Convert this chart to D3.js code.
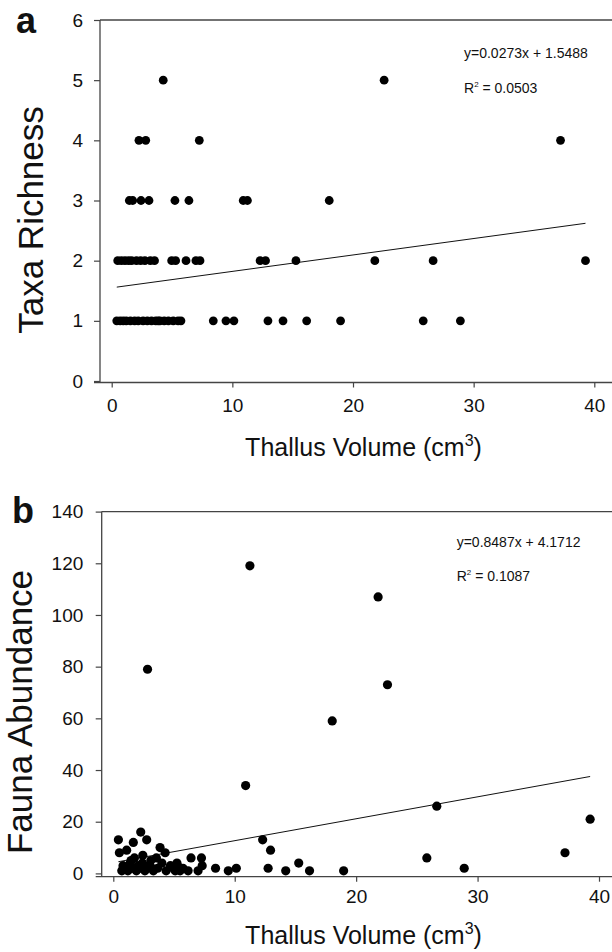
<!DOCTYPE html>
<html>
<head>
<meta charset="utf-8">
<script src="https://cdn.jsdelivr.net/npm/d3@7"></script>
<style>
body { margin: 0; background: #fff; }
svg text { font-family: "Liberation Sans", Arial, Helvetica, sans-serif; fill: #111; }
</style>
</head>
<body>
<svg id="chart" width="612" height="952"></svg>
<script>
// thallus volume (cm3) of every sample, same samples in both panels
const volume = [
  0.42, 0.50, 0.70, 0.80, 0.95, 1.10, 1.20, 1.40, 1.46, 1.55,
  1.65, 1.74, 1.90, 2.05, 2.20, 2.26, 2.40, 2.43, 2.60, 2.75,
  2.82, 2.95, 3.09, 3.20, 3.30, 3.55, 3.65, 3.85, 4.00, 4.27,
  4.35, 4.70, 4.97, 5.10, 5.24, 5.30, 5.50, 5.74, 6.16, 6.40,
  6.98, 7.26, 7.32, 8.42, 9.47, 10.13, 10.9, 11.25, 12.3, 12.75,
  12.95, 14.2, 15.27, 16.16, 18.03, 18.97, 21.81, 22.58, 25.82, 26.64,
  28.9, 37.2, 39.27
];
const richness = [
  1, 2, 1, 2, 1, 2, 1, 2, 3, 1,
  2, 3, 1, 2, 1, 4, 2, 3, 1, 2,
  4, 1, 3, 2, 1, 2, 1, 1, 1, 5,
  1, 1, 2, 1, 3, 2, 1, 1, 2, 3,
  2, 4, 2, 1, 1, 1, 3, 3, 2, 2,
  1, 1, 2, 1, 3, 1, 2, 5, 1, 2,
  1, 4, 2
];
const abundance = [
  13, 8, 1, 3, 2, 9, 1, 4, 5, 2,
  12, 6, 1, 3, 2, 16, 4, 7, 1, 13,
  79, 3, 5, 2, 1, 6, 2, 10, 4, 8,
  1, 3, 2, 1, 4, 3, 1, 2, 1, 6,
  1, 6, 3, 2, 1, 2, 34, 119, 13, 2,
  9, 1, 4, 1, 59, 1, 107, 73, 6, 26,
  2, 8, 21
];
const xTicks = [0, 10, 20, 30, 40];
const richnessTicks = [0, 1, 2, 3, 4, 5, 6];
const abundanceTicks = [0, 20, 40, 60, 80, 100, 120, 140];
const fitRichness = [0.0273, 1.5488];
const fitAbundance = [0.8487, 4.1712];
const eqRichness = ["y=0.0273x + 1.5488", "0.0503"];
const eqAbundance = ["y=0.8487x + 4.1712", "0.1087"];

const svg = d3.select("#chart");
const W = 612;

function drawPanel(o) {
  const x = d3.scaleLinear().domain([0, 40]).range([o.x0, o.x40]);
  const y = d3.scaleLinear().domain([0, o.ymax]).range([o.y0, o.ytop]);
  const g = svg.append("g");

  // frame lines (right side is cut off in the figure)
  g.append("line").attr("x1", o.axisX).attr("x2", W).attr("y1", o.ytop).attr("y2", o.ytop)
    .attr("stroke", "#444").attr("stroke-width", 1.3);
  g.append("line").attr("x1", o.axisX).attr("x2", o.axisX).attr("y1", o.ytop).attr("y2", o.axisY)
    .attr("stroke", "#444").attr("stroke-width", 1.3);
  g.append("line").attr("x1", o.axisX - 6).attr("x2", W).attr("y1", o.axisY).attr("y2", o.axisY)
    .attr("stroke", "#444").attr("stroke-width", 1.3);

  const xa = g.append("g").attr("transform", `translate(0,${o.axisY})`)
    .call(d3.axisBottom(x).tickValues(xTicks).tickFormat(d3.format("d")).tickSize(5).tickPadding(o.xPad));
  const ya = g.append("g").attr("transform", `translate(${o.axisX},0)`)
    .call(d3.axisLeft(y).tickValues(o.ticks).tickFormat(d3.format("d")).tickSize(6).tickPadding(o.yPad));
  [xa, ya].forEach(a => {
    a.select(".domain").remove();
    a.attr("font-size", 19).attr("font-family", null);
    a.selectAll("line").attr("stroke", "#444").attr("stroke-width", 1.2);
    a.selectAll("text").attr("fill", "#111");
  });

  // regression line over the data range
  const [m, b] = o.fit;
  const ext = d3.extent(volume);
  g.append("line")
    .attr("x1", x(ext[0])).attr("y1", y(m * ext[0] + b))
    .attr("x2", x(ext[1])).attr("y2", y(m * ext[1] + b))
    .attr("stroke", "#111").attr("stroke-width", 1);

  g.selectAll("circle").data(d3.range(volume.length)).join("circle")
    .attr("cx", i => x(volume[i]))
    .attr("cy", i => y(o.values[i]))
    .attr("r", o.r)
    .attr("fill", "#000");

  // equation + r squared
  g.append("text").attr("x", o.eqX).attr("y", o.eqY).attr("font-size", 14).text(o.eq[0]);
  const r2 = g.append("text").attr("x", o.eqX).attr("y", o.eqY + 34.5).attr("font-size", 14);
  r2.append("tspan").text("R");
  r2.append("tspan").attr("font-size", 8).attr("dy", -6).text("2");
  r2.append("tspan").attr("dy", 6).text(" = " + o.eq[1]);

  // axis titles
  const xl = g.append("text").attr("x", 363.5).attr("y", o.xLabelY)
    .attr("text-anchor", "middle").attr("font-size", 25);
  xl.append("tspan").text("Thallus Volume (cm");
  xl.append("tspan").attr("font-size", 16).attr("dy", -10).text("3");
  xl.append("tspan").attr("dy", 10).text(")");

  g.append("text")
    .attr("transform", `translate(${o.yLabelX},${o.yLabelY}) rotate(-90)`)
    .attr("text-anchor", "middle").attr("font-size", 35)
    .text(o.yLabel);

  g.append("text").attr("x", o.tagX).attr("y", o.tagY)
    .attr("font-size", 36).attr("font-weight", "bold").text(o.tag);
}

drawPanel({
  tag: "a", tagX: 16, tagY: 33, r: 4.4,
  values: richness, ticks: richnessTicks, ymax: 6, fit: fitRichness, eq: eqRichness,
  x0: 111.7, x40: 594.3, y0: 381, ytop: 20,
  axisX: 100, axisY: 382.5, xPad: 10.8, yPad: 11,
  eqX: 464, eqY: 58.3,
  xLabelY: 456, yLabel: "Taxa Richness", yLabelX: 43, yLabelY: 220
});

drawPanel({
  tag: "b", tagX: 12, tagY: 523, r: 4.6,
  values: abundance, ticks: abundanceTicks, ymax: 140, fit: fitAbundance, eq: eqAbundance,
  x0: 113.3, x40: 599, y0: 873.4, ytop: 511.6,
  axisX: 101.7, axisY: 876.7, xPad: 8.3, yPad: 12.4,
  eqX: 456.7, eqY: 546.7,
  xLabelY: 944, yLabel: "Fauna Abundance", yLabelX: 32, yLabelY: 712
});
</script>
</body>
</html>
